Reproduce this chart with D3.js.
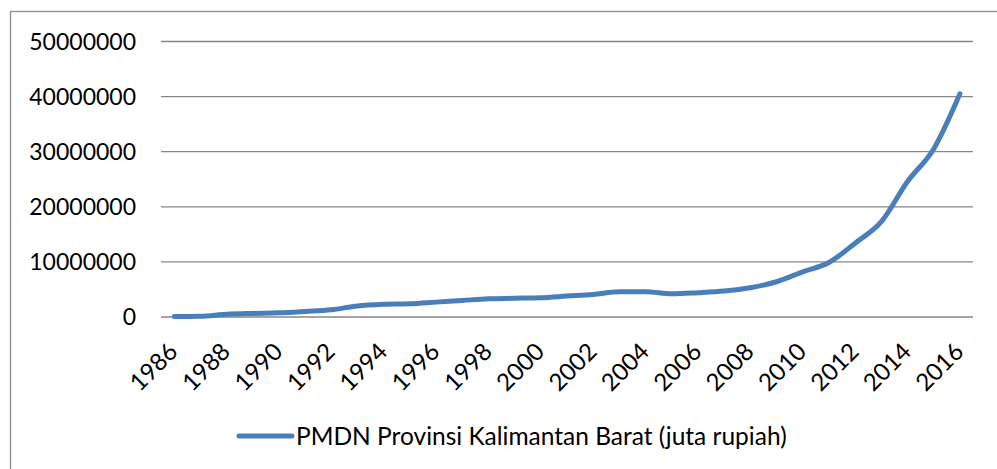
<!DOCTYPE html>
<html>
<head>
<meta charset="utf-8">
<script src="https://cdn.jsdelivr.net/npm/d3@7"></script>
<style>
  body { margin: 0; background: #fff; }
  svg { display: block; font-family: Lato, "Open Sans", sans-serif; }
</style>
</head>
<body>
<svg width="997" height="469"></svg>
<script>
const years = d3.range(1986, 2017).map(String);
const pmdn = [
  100000, 150000, 500000, 650000, 750000, 1000000, 1300000, 2000000, 2300000, 2400000,
  2700000, 3000000, 3300000, 3400000, 3500000, 3800000, 4100000, 4600000, 4600000, 4200000,
  4400000, 4700000, 5300000, 6400000, 8200000, 9900000, 13400000, 17300000, 24600000, 30500000,
  40500000
];
const yTicks = [0, 10000000, 20000000, 30000000, 40000000, 50000000];
const seriesName = "PMDN Provinsi Kalimantan Barat (juta rupiah)";

const svg = d3.select("svg");
const plotL = 161, plotR = 973, plotT = 41.5, plotB = 317;

// outer chart border (cropped on the right and bottom)
svg.append("rect")
  .attr("x", 10.5).attr("y", 11.5)
  .attr("width", 1000).attr("height", 500)
  .attr("fill", "none").attr("stroke", "#8c8c8c").attr("stroke-width", 1.3);

const x = d3.scalePoint().domain(years).range([plotL, plotR]).padding(0.5);
const y = d3.scaleLinear().domain([0, 50000000]).range([plotB, plotT]);

svg.append("g").selectAll("line")
  .data(yTicks).enter().append("line")
  .attr("x1", plotL).attr("x2", plotR)
  .attr("y1", d => y(d)).attr("y2", d => y(d))
  .attr("stroke", "#878787").attr("stroke-width", 1.3);

svg.append("g").selectAll("text")
  .data(yTicks).enter().append("text")
  .attr("x", 136).attr("y", d => y(d))
  .attr("dy", "0.36em")
  .attr("text-anchor", "end")
  .attr("font-size", 23)
  .attr("fill", "#000")
  .text(d => d3.format("d")(d));

svg.append("g").selectAll("text")
  .data(years.filter((d, i) => i % 2 === 0)).enter().append("text")
  .attr("transform", d => `translate(${x(d) - 1},${plotB + 30}) rotate(-45)`)
  .attr("text-anchor", "end")
  .attr("dy", "0.36em")
  .attr("font-size", 24)
  .attr("fill", "#000")
  .text(d => d);

const line = d3.line()
  .x((d, i) => x(years[i]))
  .y(d => y(d))
  .curve(d3.curveMonotoneX);

svg.append("path")
  .datum(pmdn)
  .attr("d", line)
  .attr("fill", "none")
  .attr("stroke", "#4a7ebb")
  .attr("stroke-width", 5)
  .attr("stroke-linecap", "round")
  .attr("stroke-linejoin", "round");

// legend
const lg = svg.append("g").attr("transform", "translate(239,436)");
lg.append("line")
  .attr("x1", 0).attr("x2", 53)
  .attr("stroke", "#4a7ebb").attr("stroke-width", 5)
  .attr("stroke-linecap", "round");
lg.append("text")
  .attr("x", 57).attr("dy", "0.36em")
  .attr("font-size", 24.5)
  .attr("fill", "#000")
  .text(seriesName);
</script>
</body>
</html>
